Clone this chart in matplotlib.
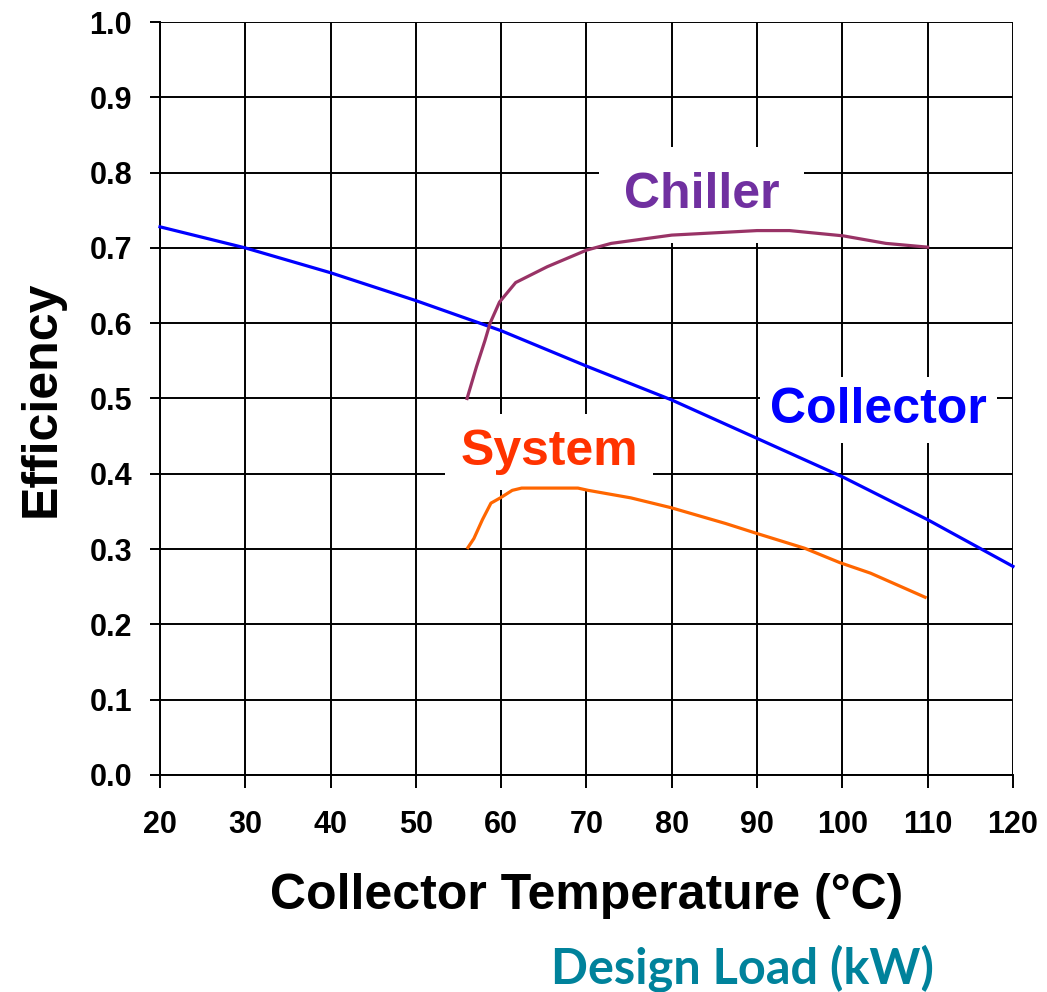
import matplotlib
matplotlib.use("Agg")
import matplotlib.pyplot as plt

plt.rcParams['font.family'] = ['Liberation Sans', 'DejaVu Sans']

# collector efficiency vs temperature
coll_t = [20, 30, 40, 50, 60, 70, 80, 90, 100, 110, 120]
coll_eff = [0.728, 0.700, 0.667, 0.630, 0.590, 0.543, 0.498, 0.447, 0.396, 0.339, 0.277]

# chiller
chil_t = [56.0, 57.1, 58.1, 58.7, 59.8, 61.7, 65.4, 70.0, 72.9, 80.0, 90.0, 93.8, 100.1, 105.1, 110.0]
chil_eff = [0.500, 0.542, 0.577, 0.600, 0.628, 0.654, 0.675, 0.697, 0.706, 0.717, 0.723, 0.723, 0.716, 0.706, 0.701]

# system
sys_t = [56.1, 56.8, 57.8, 58.8, 59.9, 61.3, 62.4, 64.6, 69.0, 70.2, 75.2, 79.9, 86.3, 89.9, 95.6, 99.7, 103.3, 109.7]
sys_eff = [0.302, 0.314, 0.339, 0.361, 0.368, 0.378, 0.381, 0.381, 0.381, 0.378, 0.368, 0.355, 0.334, 0.321, 0.301, 0.282, 0.268, 0.236]

xticks = list(range(20, 121, 10))
yticks = [i / 10 for i in range(0, 11)]

fig = plt.figure(figsize=(10.47, 9.92), dpi=100)
ax = fig.add_axes([0.1528, 0.2188, 0.8147, 0.759])

ax.plot(coll_t, coll_eff, color='#0000FF', lw=2.3, zorder=4, clip_on=False)
ax.plot(chil_t, chil_eff, color='#993366', lw=2.3, zorder=4)
ax.plot(sys_t, sys_eff, color='#FF6600', lw=2.3, zorder=4)

ax.set_xlim(20, 120)
ax.set_ylim(0, 1.0)
ax.set_xticks(xticks)
ax.set_yticks(yticks)
ax.set_yticklabels(['%.1f' % v for v in yticks])
ax.grid(True, color='black', lw=1.4, zorder=1)
ax.set_axisbelow(True)
for s in ['top', 'right']:
    ax.spines[s].set_visible(False)
for s in ['left', 'bottom']:
    ax.spines[s].set_linewidth(1.4)
ax.tick_params(axis='both', direction='out', width=1.4, labelsize=22)
ax.tick_params(axis='y', length=7, pad=13)
ax.tick_params(axis='x', length=9, pad=16)
for lab in ax.get_xticklabels() + ax.get_yticklabels():
    lab.set_fontweight('bold')

ax.set_xlabel('Collector Temperature (°C)', fontsize=36, fontweight='bold', labelpad=24)
ax.set_ylabel('Efficiency', fontsize=36, fontweight='bold', labelpad=18)

ax.text(83.5, 0.77, 'Chiller', color='#7030A0', fontsize=36, fontweight='bold',
        ha='center', va='center', zorder=3,
        bbox=dict(facecolor='white', edgecolor='none', boxstyle='square,pad=0.5'))
ax.text(104.2, 0.485, 'Collector', color='#0000FF', fontsize=36, fontweight='bold',
        ha='center', va='center', zorder=3,
        bbox=dict(facecolor='white', edgecolor='none', boxstyle='square,pad=0.2'))
ax.text(65.6, 0.429, 'System', color='#FF3300', fontsize=36, fontweight='bold',
        ha='center', va='center', zorder=3,
        bbox=dict(facecolor='white', edgecolor='none', boxstyle='square,pad=0.3'))

fig.text(742 / 1047, 1 - 968 / 992, 'Design Load (kW)', color='#00829B', fontsize=35,
         fontweight='bold', family=['Lato', 'DejaVu Sans'], ha='center', va='center')

fig.savefig('out.png', dpi=100)
